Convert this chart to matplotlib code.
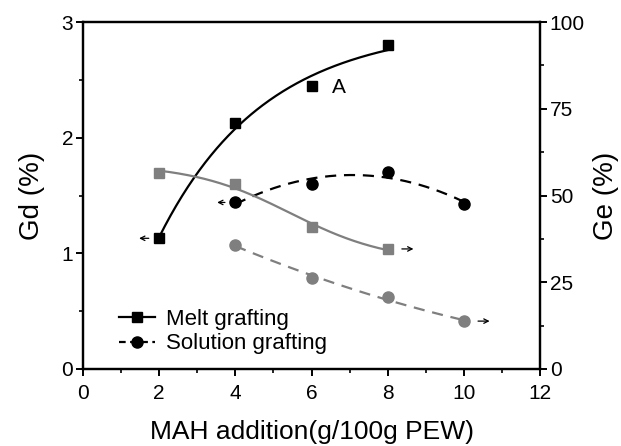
import numpy as np
import matplotlib
matplotlib.use("Agg")
import matplotlib.pyplot as plt
from matplotlib.ticker import MultipleLocator
from matplotlib.lines import Line2D

plt.rcParams['font.family'] = ['Liberation Sans', 'DejaVu Sans']

melt_x = [2, 4, 6, 8]
melt_gd = [1.13, 2.13, 2.45, 2.80]
melt_ge = [56.5, 53.3, 41.0, 34.6]
sol_x = [4, 6, 8, 10]
sol_gd = [1.44, 1.60, 1.70, 1.43]
sol_ge = [35.7, 26.2, 20.7, 13.8]

black = '#000000'
gray = '#7f7f7f'

fig = plt.figure(figsize=(6.21, 4.46), dpi=100)
ax = fig.add_axes([83/621, 1-369/446, (540-83)/621, (369-22)/446])
ax2 = ax.twinx()


def polyfit_curve(x, y, deg, n=200):
    c = np.polyfit(x, y, deg)
    xx = np.linspace(min(x), max(x), n)
    return xx, np.polyval(c, xx)


def expfit_curve(x, y, n=200):
    # y = a - b*exp(-k x)
    x = np.asarray(x, float); y = np.asarray(y, float)
    best = None
    for k in np.linspace(0.02, 1.0, 500):
        A = np.column_stack([np.ones_like(x), -np.exp(-k * x)])
        coef, *_ = np.linalg.lstsq(A, y, rcond=None)
        r = np.sum((A @ coef - y) ** 2)
        if best is None or r < best[0]:
            best = (r, k, coef)
    _, k, (a, b) = best
    xx = np.linspace(x.min(), x.max(), n)
    return xx, a - b * np.exp(-k * xx)


def boltzmann_curve(x, y, n=200):
    # y = A2 + (A1 - A2) / (1 + exp((x - x0)/dx))
    x = np.asarray(x, float); y = np.asarray(y, float)
    best = None
    for x0 in np.linspace(3.5, 6.5, 61):
        for dx in np.linspace(1.3, 3.0, 35):
            s = 1.0 / (1.0 + np.exp((x - x0) / dx))
            A = np.column_stack([1 - s, s])
            coef, *_ = np.linalg.lstsq(A, y, rcond=None)
            r = np.sum((A @ coef - y) ** 2)
            if best is None or r < best[0]:
                best = (r, x0, dx, coef)
    _, x0, dx, (a2, a1) = best
    xx = np.linspace(x.min(), x.max(), n)
    s = 1.0 / (1.0 + np.exp((xx - x0) / dx))
    return xx, a2 * (1 - s) + a1 * s


xx, yy = expfit_curve(melt_x, melt_gd)
ax.plot(xx, yy, color=black, lw=1.6)
ax.plot(melt_x, melt_gd, 's', color=black, ms=7)
xx, yy = polyfit_curve(sol_x, sol_gd, 2)
ax.plot(xx, yy, color=black, lw=1.6, ls=(0, (5, 3.5)))
ax.plot(sol_x, sol_gd, 'o', color=black, ms=8)

xx, yy = boltzmann_curve(melt_x, melt_ge)
ax2.plot(xx, yy, color=gray, lw=1.6)
ax2.plot(melt_x, melt_ge, 's', color=gray, ms=7)
xx, yy = polyfit_curve(sol_x, sol_ge, 2)
ax2.plot(xx, yy, color=gray, lw=1.6, ls=(0, (5, 3.5)))
ax2.plot(sol_x, sol_ge, 'o', color=gray, ms=8)

ax.set_xlim(0, 12)
ax.set_ylim(0, 3)
ax2.set_ylim(0, 100)

arrow_kw = dict(arrowstyle='->', color=black, lw=0.9, mutation_scale=8)
ax.annotate('', xy=(1.4, 1.13), xytext=(1.8, 1.13), arrowprops=arrow_kw)
ax.annotate('', xy=(3.45, 1.44), xytext=(3.8, 1.44), arrowprops=arrow_kw)
ax2.annotate('', xy=(8.75, 34.6), xytext=(8.3, 34.6), arrowprops=arrow_kw)
ax2.annotate('', xy=(10.75, 13.8), xytext=(10.3, 13.8), arrowprops=arrow_kw)

ax.text(6.55, 2.43, 'A', fontsize=15, va='center', ha='left')

ax.xaxis.set_major_locator(MultipleLocator(2))
ax.xaxis.set_minor_locator(MultipleLocator(1))
ax.yaxis.set_major_locator(MultipleLocator(1))
ax.yaxis.set_minor_locator(MultipleLocator(0.5))
ax2.yaxis.set_major_locator(MultipleLocator(25))
ax2.yaxis.set_minor_locator(MultipleLocator(12.5))

for a in (ax, ax2):
    a.tick_params(which='major', direction='out', length=5, width=1.4, labelsize=15)
    a.tick_params(which='minor', direction='out', length=3, width=1.2)
    for s in a.spines.values():
        s.set_linewidth(1.6)
ax.tick_params(axis='x', pad=6)
ax.tick_params(axis='y', pad=2)
ax2.tick_params(axis='y', pad=2)

ax.set_xlabel('MAH addition(g/100g PEW)', fontsize=19, labelpad=12)
ax.set_ylabel('Gd (%)', fontsize=20, labelpad=12)
ax2.set_ylabel('Ge (%)', fontsize=20, labelpad=6, rotation=90)

handles = [Line2D([], [], color=black, marker='s', ms=7, lw=1.6),
           Line2D([], [], color=black, marker='o', ms=8, lw=1.6, ls=(0, (3, 2)))]
ax.legend(handles, ['Melt grafting', 'Solution grafting'], loc='lower left',
          bbox_to_anchor=(0.055, 0.01), frameon=False, fontsize=16,
          handlelength=1.6, handletextpad=0.5, labelspacing=0.15, borderpad=0)

fig.savefig('out.png', dpi=100)
